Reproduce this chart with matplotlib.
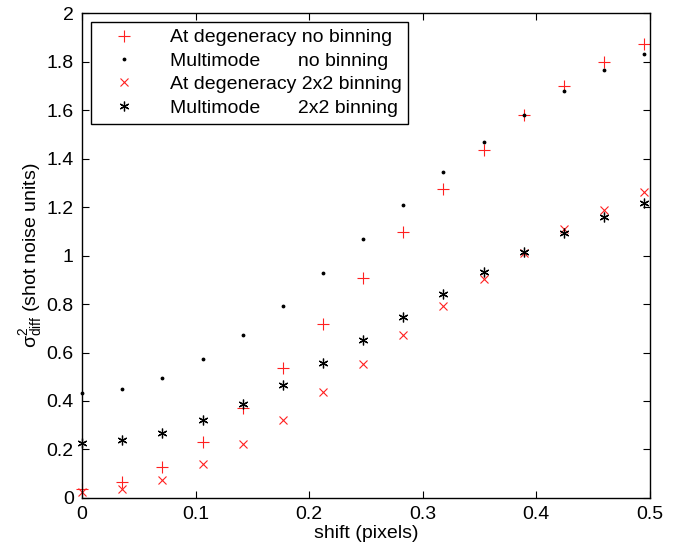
import matplotlib.pyplot as plt
import numpy as np

plt.rcParams['font.family'] = ['Liberation Sans', 'DejaVu Sans']
plt.rcParams['mathtext.fontset'] = 'custom'
plt.rcParams['mathtext.rm'] = 'Liberation Sans'
plt.rcParams['mathtext.it'] = 'Liberation Sans'

# shift values (pixels)
shift = [0.0, 0.0354, 0.0707, 0.1061, 0.1414, 0.1768, 0.2121, 0.2475,
         0.2828, 0.3182, 0.3536, 0.3889, 0.4243, 0.4596, 0.4950]

degen_nobin = [0.035, 0.065, 0.129, 0.232, 0.370, 0.536, 0.718, 0.906,
               1.096, 1.273, 1.435, 1.579, 1.700, 1.798, 1.872]
multi_nobin = [0.432, 0.450, 0.496, 0.572, 0.673, 0.793, 0.928, 1.068,
               1.208, 1.343, 1.469, 1.582, 1.681, 1.764, 1.831]
degen_bin = [0.025, 0.036, 0.074, 0.139, 0.223, 0.322, 0.436, 0.553,
             0.673, 0.793, 0.904, 1.009, 1.108, 1.190, 1.263]
multi_bin = [0.228, 0.239, 0.269, 0.320, 0.386, 0.467, 0.555, 0.653,
             0.748, 0.842, 0.931, 1.013, 1.092, 1.159, 1.218]

labels = ['At degeneracy no binning',
          'Multimode       no binning',
          'At degeneracy 2x2 binning',
          'Multimode       2x2 binning']

fig = plt.figure(figsize=(6.84, 5.52), dpi=100)
ax = fig.add_axes([0.12, 0.098, 0.830, 0.878])

red = '#ff2020'
ax.plot(shift, degen_nobin, '+', color=red, ms=8, mew=0.8, clip_on=False, label=labels[0])
ax.plot(shift, multi_nobin, '.', color='black', ms=3.5, clip_on=False, label=labels[1])
ax.plot(shift, degen_bin, 'x', color=red, ms=5.5, mew=0.8, clip_on=False, label=labels[2])
ax.plot(shift, multi_bin, marker=(6, 2, 0), ls='none', color='black', ms=7, mew=0.9,
        clip_on=False, label=labels[3])

ax.set_xlim(0, 0.5)
ax.set_ylim(0, 2)
ax.set_xticks(np.arange(0, 0.51, 0.1))
ax.set_xticklabels(['0', '0.1', '0.2', '0.3', '0.4', '0.5'])
ax.set_yticks(np.arange(0, 2.01, 0.2))
ax.set_yticklabels(['0', '0.2', '0.4', '0.6', '0.8', '1', '1.2', '1.4', '1.6', '1.8', '2'])
ax.tick_params(direction='in', top=True, right=True, labelsize=14, length=5, width=0.8, pad=6)
for s in ax.spines.values():
    s.set_linewidth(1.0)

ax.set_xlabel('shift (pixels)', fontsize=14, labelpad=1)
ax.set_ylabel(r'$\sigma^2_{\rm diff}$ (shot noise units)', fontsize=14, labelpad=2)

leg = ax.legend(loc='upper left', fontsize=14, fancybox=False, framealpha=1,
                edgecolor='black', borderaxespad=0.45, handletextpad=1.0,
                labelspacing=0.3, borderpad=0.35, handlelength=2.7)
leg.get_frame().set_linewidth(1.0)

fig.savefig('out.png', dpi=100)
